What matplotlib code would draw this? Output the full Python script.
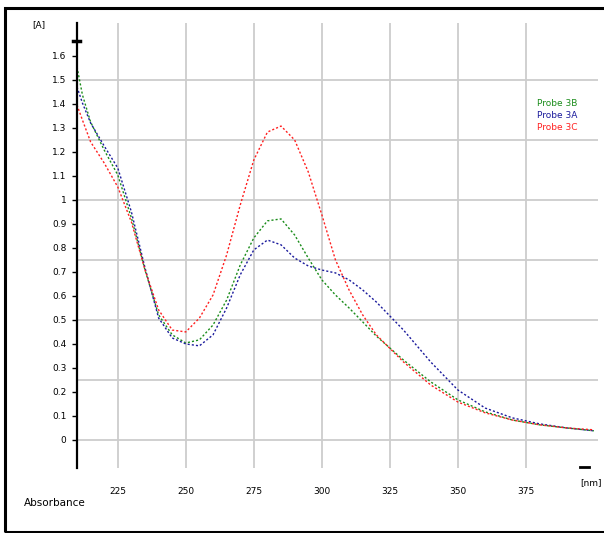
import matplotlib.pyplot as plt
from matplotlib.patches import Rectangle
from matplotlib.lines import Line2D

# wavelengths in nm
wavelength = [210, 212, 215, 220, 225, 230, 235, 240, 245, 250, 255, 260, 265,
              270, 275, 280, 285, 290, 295, 300, 305, 310, 315, 320, 330, 340,
              350, 360, 370, 380, 390, 400]

probe_3b = [1.554, 1.438, 1.325, 1.208, 1.104, 0.925, 0.708, 0.521, 0.438, 0.404,
            0.417, 0.479, 0.583, 0.729, 0.842, 0.913, 0.921, 0.854, 0.758, 0.667,
            0.604, 0.550, 0.492, 0.433, 0.333, 0.242, 0.167, 0.117, 0.083, 0.063,
            0.050, 0.038]

probe_3a = [1.471, 1.404, 1.321, 1.225, 1.133, 0.950, 0.717, 0.508, 0.425, 0.400,
            0.392, 0.438, 0.550, 0.688, 0.792, 0.833, 0.813, 0.758, 0.725, 0.708,
            0.696, 0.667, 0.625, 0.575, 0.458, 0.325, 0.208, 0.133, 0.092, 0.067,
            0.050, 0.038]

probe_3c = [1.396, 1.333, 1.242, 1.154, 1.054, 0.908, 0.708, 0.542, 0.458, 0.450,
            0.508, 0.604, 0.771, 0.979, 1.167, 1.283, 1.308, 1.250, 1.117, 0.938,
            0.750, 0.625, 0.521, 0.438, 0.325, 0.229, 0.158, 0.113, 0.083, 0.063,
            0.050, 0.042]

series_names = ['Probe 3B', 'Probe 3A', 'Probe 3C']
series_colors = ['#1a8c1a', '#1a1a9c', '#ff2020']

x_ticks = [225, 250, 275, 300, 325, 350, 375]
y_ticks = [i / 10 for i in range(17)]
y_grid = [0, 0.25, 0.5, 0.75, 1.0, 1.25, 1.5]

W, H = 604, 533
fig = plt.figure(figsize=(W / 100, H / 100), dpi=100)

# outer frame (right edge runs off the image)
fig.patches.append(Rectangle((5 / W, 1 - 532 / H), 605 / W, 524 / H,
                             transform=fig.transFigure, fill=False,
                             edgecolor='black', linewidth=2.2))

ax = fig.add_axes([77 / W, 1 - 468 / H, (598 - 77) / W, (468 - 23) / H])
ax.set_xlim(210, 401.5)
ax.set_ylim(-0.117, 1.7375)

for side in ['top', 'right', 'bottom']:
    ax.spines[side].set_visible(False)
ax.spines['left'].set_linewidth(1.6)

# grid
for xv in x_ticks:
    ax.axvline(xv, color='#cdcdcd', linewidth=1.3, zorder=0)
for yv in y_grid:
    ax.axhline(yv, color='#cdcdcd', linewidth=1.3, zorder=0)

ax.set_xticks(x_ticks)
ax.set_xticklabels([str(v) for v in x_ticks])
ax.set_yticks(y_ticks)
ax.set_yticklabels(['%g' % v for v in y_ticks])
ax.tick_params(axis='x', length=0, pad=14, labelsize=6.5)
ax.tick_params(axis='y', length=3.5, width=1, direction='out', pad=4, labelsize=6.5)

curves = [probe_3b, probe_3a, probe_3c]
for vals, name, col in zip(curves, series_names, series_colors):
    ax.plot(wavelength, vals, color=col, linewidth=1.0, linestyle=(0, (1.5, 1.5)), label=name)

# legend as plain coloured text
for i, (name, col) in enumerate(zip(series_names, series_colors)):
    fig.text(537 / W, 1 - (104 + 12 * i) / H, name, color=col, fontsize=6.5, va='center')

# small end marks on the axes
fig.lines.append(Line2D([73 / W, 80 / W], [1 - 41 / H, 1 - 41 / H],
                        transform=fig.transFigure, color='black', linewidth=2.5))
fig.lines.append(Line2D([580 / W, 589 / W], [1 - 467 / H, 1 - 467 / H],
                        transform=fig.transFigure, color='black', linewidth=2))

fig.text(32 / W, 1 - 25 / H, '[A]', fontsize=6.5, va='center')
fig.text(24 / W, 1 - 503 / H, 'Absorbance', fontsize=7.5, va='center')
fig.text(580 / W, 1 - 483 / H, '[nm]', fontsize=6.5, va='center')

fig.savefig('out.png', dpi=100)
